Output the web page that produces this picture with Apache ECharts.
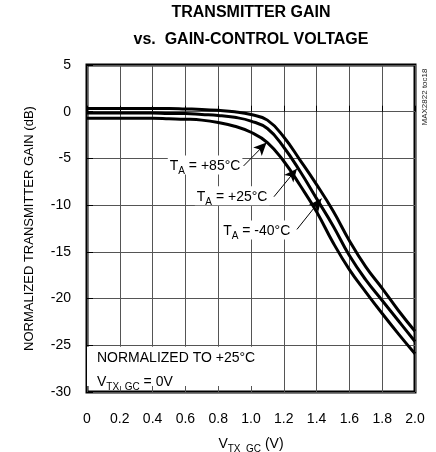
<!DOCTYPE html>
<html>
<head>
<meta charset="utf-8">
<script src="https://cdn.jsdelivr.net/npm/echarts@6/dist/echarts.min.js"></script>
<style>
  html, body { margin: 0; padding: 0; background: #fff; }
  #chart { width: 436px; height: 452px; }
</style>
</head>
<body>
<div id="chart"></div>
<script>
// Gain-control voltage (V)
const voltage = [0, 0.1, 0.2, 0.3, 0.4, 0.5, 0.6, 0.7, 0.8, 0.9, 1.0, 1.1, 1.2, 1.3, 1.4, 1.5, 1.6, 1.7, 1.8, 1.9, 2.0];
// Normalized transmitter gain (dB) per ambient temperature
const gainMinus40 = [0.35, 0.35, 0.35, 0.35, 0.35, 0.35, 0.3, 0.25, 0.15, 0.0, -0.3, -0.9, -2.7, -5.2, -7.8, -10.6, -13.8, -16.6, -18.9, -21.3, -23.5];
const gainPlus25 = [-0.15, -0.15, -0.15, -0.15, -0.15, -0.2, -0.2, -0.3, -0.4, -0.6, -1.0, -1.8, -3.8, -6.4, -9.3, -12.2, -15.4, -18.0, -20.2, -22.4, -24.6];
const gainPlus85 = [-0.7, -0.7, -0.7, -0.7, -0.7, -0.75, -0.8, -0.9, -1.15, -1.55, -2.2, -3.3, -5.3, -7.9, -10.7, -14.0, -16.9, -19.3, -21.6, -23.8, -25.9];
// Axis ranges and tick steps
const xRange = [0, 2.0], xStep = 0.2;
const yRange = [-30, 5], yStep = 5;

const FONT = '"Liberation Sans", Arial, Helvetica, sans-serif';

// Callout labels: text pieces and where they sit / point to (data coords)
const callouts = [
  { temp: '+85°C', at: [0.72, -5.7], from: [0.955, -5.8], to: [1.095, -3.3] },
  { temp: '+25°C', at: [0.885, -9.0], from: [1.14, -9.1], to: [1.28, -6.1] },
  { temp: '-40°C', at: [1.035, -12.65], from: [1.28, -12.6], to: [1.43, -9.3] }
];

const chart = echarts.init(document.getElementById('chart'), null, { renderer: 'canvas' });

function curve(name, values) {
  return {
    name: name,
    type: 'line',
    data: voltage.map((v, i) => [v, values[i]]),
    showSymbol: false,
    smooth: 0.45,
    lineStyle: { color: '#000', width: 3 },
    z: 3,
    silent: true
  };
}

const subRich = {
  t: { fontFamily: FONT, fontSize: 14, color: '#000', verticalAlign: 'bottom', lineHeight: 17 },
  s: { fontFamily: FONT, fontSize: 10, color: '#000', verticalAlign: 'bottom', padding: [0, 0, -3, 0], lineHeight: 17 }
};

const series = [
  curve('-40°C', gainMinus40),
  curve('+25°C', gainPlus25),
  curve('+85°C', gainPlus85)
];

// arrows, callout labels and the normalization note box
series.push({
  type: 'line',
  data: [],
  silent: true,
  markLine: {
    silent: true,
    symbol: ['none', 'arrow'],
    symbolSize: [9, 13],
    label: { show: false },
    lineStyle: { color: '#000', width: 1, type: 'solid' },
    data: callouts.map(c => [{ coord: c.from }, { coord: c.to }]),
    z: 5
  },
  markPoint: {
    silent: true,
    symbol: 'rect',
    symbolSize: 1,
    itemStyle: { color: 'rgba(0,0,0,0)' },
    data: callouts.map(c => ({
      coord: c.at,
      label: {
        show: true,
        position: 'inside',
        formatter: '{t|T}{s|A}{t| = ' + c.temp + '}',
        backgroundColor: '#fff',
        padding: [1, 2],
        rich: subRich
      }
    })),
    z: 6
  },
  markArea: {
    silent: true,
    itemStyle: { color: '#fff' },
    data: [[{ coord: [0, -25.15] }, { coord: [1.035, -29.35] }]],
    z: 1
  }
});

chart.setOption({
  animation: false,
  grid: {
    left: 87, right: 21, top: 65, bottom: 60,
    outerBoundsMode: 'none',
    containLabel: false,
    show: true, borderColor: '#000', borderWidth: 3, backgroundColor: 'transparent'
  },
  xAxis: {
    type: 'value',
    min: xRange[0], max: xRange[1], interval: xStep,
    axisLine: { show: false },
    axisTick: { show: true, inside: true, length: 6, lineStyle: { color: '#000' } },
    splitLine: { show: true, lineStyle: { color: '#555', width: 1 } },
    axisLabel: {
      color: '#000', fontFamily: FONT, fontSize: 14, margin: 20,
      formatter: v => (v === 0 ? '0' : v.toFixed(1))
    },
    name: '{t|V}{s|TX_GC}{t| (V)}',
    nameLocation: 'middle',
    nameGap: 42,
    nameTextStyle: { rich: subRich }
  },
  yAxis: {
    type: 'value',
    min: yRange[0], max: yRange[1], interval: yStep,
    axisLine: { show: false },
    axisTick: { show: true, inside: true, length: 6, lineStyle: { color: '#000' } },
    splitLine: { show: true, lineStyle: { color: '#555', width: 1 } },
    axisLabel: { color: '#000', fontFamily: FONT, fontSize: 14, margin: 16 },
    name: 'NORMALIZED TRANSMITTER GAIN (dB)',
    nameLocation: 'middle',
    nameGap: 51,
    nameTextStyle: { color: '#000', fontFamily: FONT, fontSize: 13 }
  },
  series: series
});

// Titles, note text and the figure tag, placed from the grid's own coordinates
const pNote = chart.convertToPixel({ gridIndex: 0 }, [0, -25]);
const plotLeft = chart.convertToPixel({ gridIndex: 0 }, [xRange[0], yRange[1]]);
const plotRight = chart.convertToPixel({ gridIndex: 0 }, [xRange[1], yRange[1]]);
const centerX = (plotLeft[0] + plotRight[0]) / 2;

chart.setOption({
  graphic: [
    {
      type: 'text', x: centerX, y: 13, z: 10,
      style: { text: 'TRANSMITTER GAIN', fill: '#000', font: 'bold 16px ' + FONT, textAlign: 'center', textVerticalAlign: 'middle' }
    },
    {
      type: 'text', x: centerX, y: 40, z: 10,
      style: { text: 'vs.  GAIN-CONTROL VOLTAGE', fill: '#000', font: 'bold 16px ' + FONT, textAlign: 'center', textVerticalAlign: 'middle' }
    },
    {
      type: 'text', x: pNote[0] + 10, y: pNote[1] - 4, z: 10,
      style: {
        text: '{t|NORMALIZED TO +25°C}\n{t|V}{s|TX_GC}{t| = 0V}',
        rich: {
          t: { fontFamily: FONT, fontSize: 14, fill: '#000', verticalAlign: 'bottom', lineHeight: 24 },
          s: { fontFamily: FONT, fontSize: 10, fill: '#000', verticalAlign: 'bottom', padding: [0, 0, -3, 0], lineHeight: 24 }
        }
      }
    },
    {
      type: 'text', x: plotRight[0] + 10, y: plotRight[1] + 32, z: 10, rotation: Math.PI / 2,
      style: { text: 'MAX2822 toc18', fill: '#222', font: '8px ' + FONT, textAlign: 'center', textVerticalAlign: 'middle' }
    }
  ]
});
</script>
</body>
</html>
